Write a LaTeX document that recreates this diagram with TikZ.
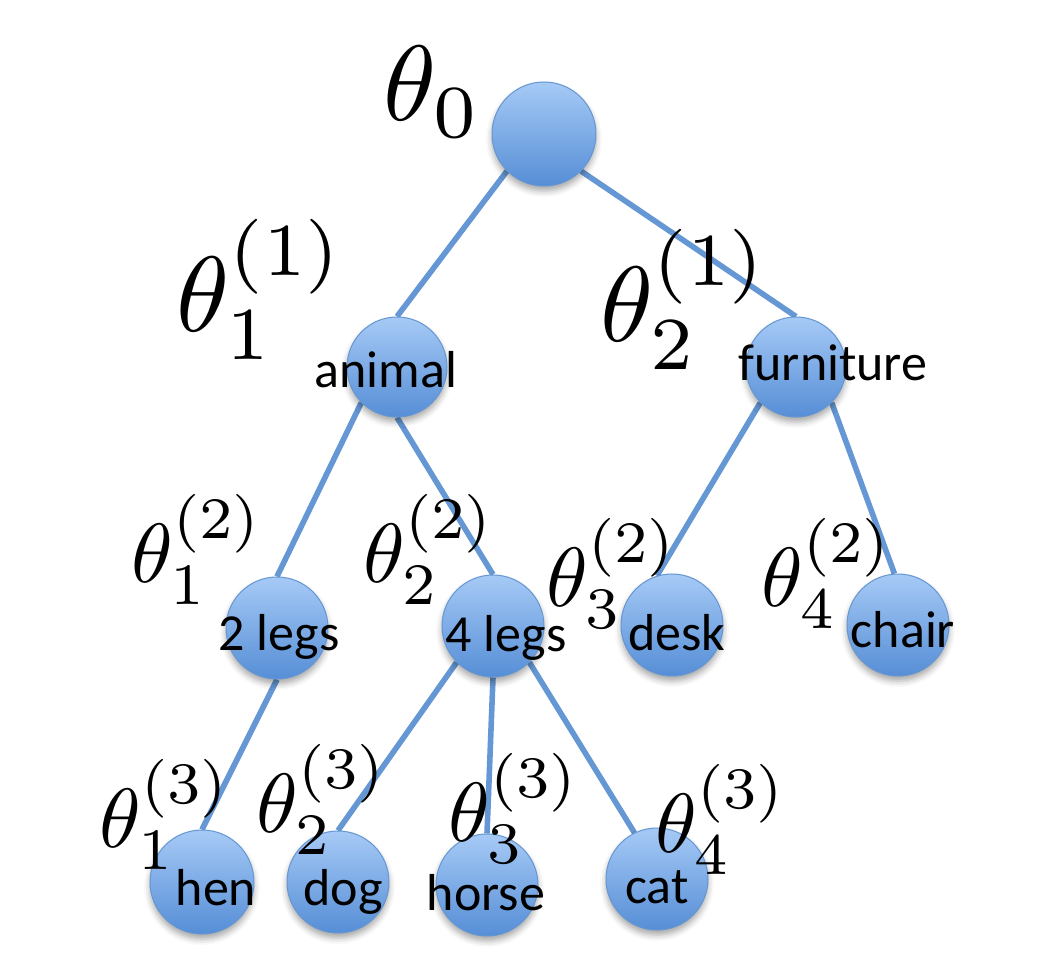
\documentclass[tikz,border=0pt]{standalone}
\usepackage{graphicx}
\usepackage{fontspec}
\newfontfamily\carl{Carlito}
\usetikzlibrary{backgrounds,shadows.blur}
\definecolor{linkblue}{RGB}{100,151,212}
\definecolor{topblue}{RGB}{166,202,246}
\definecolor{botblue}{RGB}{86,142,214}
\definecolor{rimblue}{RGB}{100,150,210}
\newcommand{\biglabel}[1]{\scalebox{5.35}{$#1$}}
\newcommand{\smalllabel}[1]{\scalebox{4.2}{$#1$}}
\tikzset{
 ball/.style={circle, draw=rimblue, line width=0.5pt, top color=topblue, bottom color=botblue,
   minimum size=51pt, inner sep=0pt,
   blur shadow={shadow xshift=0pt, shadow yshift=-2.5pt, shadow blur radius=3pt, shadow opacity=35}},
 word/.style={font=\carl\fontsize{26}{30}\selectfont, anchor=base, inner sep=0pt},
 lab/.style={anchor=base west, inner sep=0pt},
 link/.style={draw=linkblue, line width=2.8pt},
}
\begin{document}
\begin{tikzpicture}[x=0.5pt, y=-0.5pt]
\useasboundingbox (0,0) rectangle (1050,974);
% circles
\node[ball, minimum size=52pt] (root) at (544,134) {};
\node[ball, minimum size=50pt] (animal) at (397,367) {};
\node[ball, minimum size=50pt] (furniture) at (796,367) {};
\node[ball] (twolegs) at (277,628) {};
\node[ball] (fourlegs) at (493,626) {};
\node[ball] (desk) at (672,625) {};
\node[ball] (chair) at (898,625) {};
\node[ball, minimum size=52pt] (hen) at (202,882) {};
\node[ball] (dog) at (338,882) {};
\node[ball] (horse) at (487,885) {};
\node[ball] (cat) at (657,879) {};
% connectors
\begin{pgfonlayer}{background}
\draw[link] (root.225) -- (animal.north);
\draw[link] (root.-45) -- (furniture.north);
\draw[link] (animal.-135) -- (twolegs.north);
\draw[link] (animal.south) -- (fourlegs.north);
\draw[link] (furniture.-135) -- (desk.107);
\draw[link] (furniture.-45) -- (chair.94);
\draw[link] (twolegs.south) -- (hen.north);
\draw[link] (fourlegs.-135) -- (dog.north);
\draw[link] (fourlegs.south) -- (horse.north);
\draw[link] (fourlegs.-45) -- (cat.116);
\end{pgfonlayer}
% words
\node[word] (tanimal) at (386,387) {animal};
\node[word] (tfurniture) at (833,380) {furniture};
\node[word] (ttwolegs) at (279,650) {2 legs};
\node[word] (tfourlegs) at (506,651) {4 legs};
\node[word] (tdesk) at (677,650) {desk};
\node[word] (tchair) at (903,647) {chair};
\node[word] (then) at (216,905) {hen};
\node[word] (tdog) at (343,905) {dog};
\node[word] (thorse) at (486,910) {horse};
\node[word] (tcat) at (657,903) {cat};
% parameter labels
\node[lab] (l0) at (383,121) {\biglabel{\theta_0}};
\node[lab] (l11) at (176,331) {\biglabel{\theta_1^{(1)}}};
\node[lab] (l12) at (600,341) {\biglabel{\theta_2^{(1)}}};
\node[lab] (l21) at (131,582) {\smalllabel{\theta_1^{(2)}}};
\node[lab] (l22) at (363,582) {\smalllabel{\theta_2^{(2)}}};
\node[lab] (l23) at (546,606) {\smalllabel{\theta_3^{(2)}}};
\node[lab] (l24) at (761,606) {\smalllabel{\theta_4^{(2)}}};
\node[lab] (l31) at (99,847) {\smalllabel{\theta_1^{(3)}}};
\node[lab] (l32) at (256,832) {\smalllabel{\theta_2^{(3)}}};
\node[lab] (l33) at (448,841) {\smalllabel{\theta_3^{(3)}}};
\node[lab] (l34) at (655,852) {\smalllabel{\theta_4^{(3)}}};
\end{tikzpicture}
\end{document}
